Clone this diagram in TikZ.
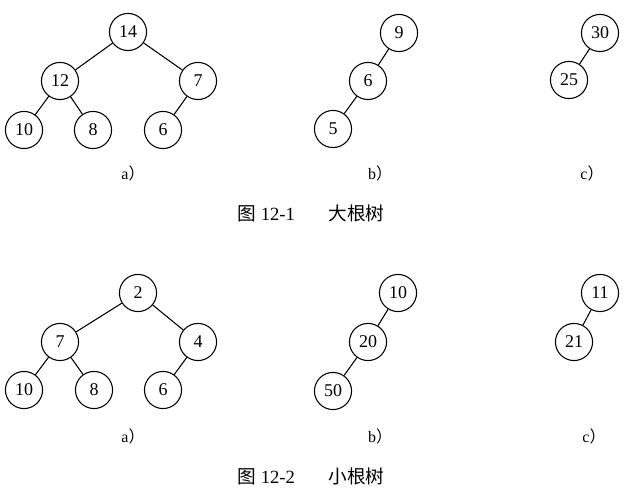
\documentclass[tikz,border=0pt]{standalone}
\usepackage{fontspec}
\setmainfont{Liberation Serif}
\newfontfamily\cjk{Noto Sans CJK SC}
\usetikzlibrary{positioning}

\begin{document}
\begin{tikzpicture}[
    x=0.0264cm, y=-0.0264cm,
    key/.style={circle, draw=black, thick, minimum size=0.98cm, inner sep=0pt, font=\fontsize{13.5}{15}\selectfont},
    edge/.style={thick, color=black},
    sub/.style={font=\fontsize{12}{14}\selectfont},
    figcaption/.style={font=\fontsize{14}{16}\selectfont}
]
    \useasboundingbox (0,0) rectangle (642,497);

    % big-root trees
    \node[key] (a14) at (128,32) {14};
    \node[key] (a12) at (60,81) {12};
    \node[key] (a7) at (198,81) {7};
    \node[key] (a10) at (24,130) {10};
    \node[key] (a8) at (93,130) {8};
    \node[key] (a6) at (163,130) {6};

    \node[key] (b9) at (399,33) {9};
    \node[key] (b6) at (368,81) {6};
    \node[key] (b5) at (333,129) {5};

    \node[key] (c30) at (600,33) {30};
    \node[key] (c25) at (569,80) {25};

    \draw[edge] (a14) -- (a12);
    \draw[edge] (a14) -- (a7);
    \draw[edge] (a12) -- (a10);
    \draw[edge] (a12) -- (a8);
    \draw[edge] (a7) -- (a6);
    \draw[edge] (b9) -- (b6);
    \draw[edge] (b6) -- (b5);
    \draw[edge] (c30) -- (c25);

    \node[sub] (la1) at (133,173) {a{\cjk ）}};
    \node[sub] (lb1) at (380,173) {b{\cjk ）}};
    \node[sub] (lc1) at (592,173) {c{\cjk ）}};
    \node[figcaption] (cap1) at (311,213) {{\cjk 图} 12-1\hspace{1.8em}{\cjk 大根树}};

    % small-root trees
    \node[key] (d2) at (138,293) {2};
    \node[key] (d7) at (60,342) {7};
    \node[key] (d4) at (198,342) {4};
    \node[key] (d10) at (24,390) {10};
    \node[key] (d8) at (94,390) {8};
    \node[key] (d6) at (163,390) {6};

    \node[key] (e10) at (398,293) {10};
    \node[key] (e20) at (368,342) {20};
    \node[key] (e50) at (333,391) {50};

    \node[key] (f11) at (600,293) {11};
    \node[key] (f21) at (574,342) {21};

    \draw[edge] (d2) -- (d7);
    \draw[edge] (d2) -- (d4);
    \draw[edge] (d7) -- (d10);
    \draw[edge] (d7) -- (d8);
    \draw[edge] (d4) -- (d6);
    \draw[edge] (e10) -- (e20);
    \draw[edge] (e20) -- (e50);
    \draw[edge] (f11) -- (f21);

    \node[sub] (la2) at (133,436) {a{\cjk ）}};
    \node[sub] (lb2) at (380,436) {b{\cjk ）}};
    \node[sub] (lc2) at (594,436) {c{\cjk ）}};
    \node[figcaption] (cap2) at (311,476) {{\cjk 图} 12-2\hspace{1.8em}{\cjk 小根树}};
\end{tikzpicture}
\end{document}
